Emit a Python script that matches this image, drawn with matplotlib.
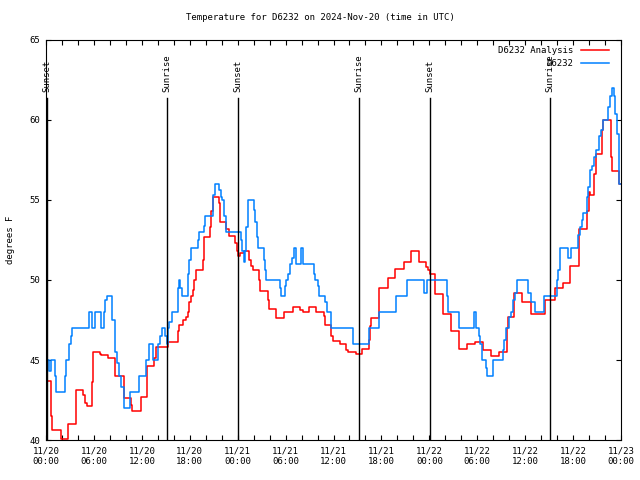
import pandas as pd
import matplotlib
matplotlib.use('Agg')
import matplotlib.pyplot as plt
import matplotlib.dates as mdates

# hours after 2024-11-20 00:00 UTC, values in degrees F
start = pd.Timestamp('2024-11-20 00:00')

obs_hours = [0, 0.4, 0.6, 1.1, 1.25, 2.35, 2.5, 2.85, 3.1, 3.3,
             5.4, 5.8, 6.1, 6.9, 7.25, 7.45, 7.6, 8.3, 8.7, 8.9,
             9.15, 9.4, 9.75, 10.5, 11.7, 12.5, 12.95, 13.45, 14.0, 14.3,
             14.5, 14.95, 15.1, 15.3, 15.45, 15.8, 16.5, 16.6, 16.8, 17.0,
             17.75, 17.95, 18.1, 19.0, 19.1, 19.75, 19.9, 20.9, 21.1, 21.7,
             21.9, 22.1, 22.3, 22.55, 22.6, 24.45, 24.6, 24.8, 24.95, 25.1,
             25.3, 26.05, 26.2, 26.4, 26.55, 27.25, 27.45, 27.6, 29.25, 29.4,
             29.95, 30.1, 30.3, 30.6, 30.8, 31.0, 31.25, 31.95, 32.2, 33.5,
             33.7, 34.05, 34.15, 34.9, 35.2, 35.7, 38.4, 40.4, 41.7, 43.8,
             45.25, 47.35, 47.7, 50.2, 50.35, 51.7, 53.6, 53.85, 54.2, 54.4,
             54.55, 55.05, 55.25, 55.95, 57.2, 57.35, 57.55, 58.0, 58.25, 58.45,
             58.7, 58.95, 60.4, 60.7, 61.2, 62.4, 63.95, 64.15, 64.3, 65.4,
             65.75, 66.65, 66.85, 67.1, 67.3, 67.7, 67.9, 68.1, 68.35, 68.6,
             68.85, 69.3, 69.45, 69.7, 70.4, 70.6, 70.85, 71.15, 71.3, 71.5,
             71.7, 71.8, 72]
obs_temp = [45, 44.3, 45, 44, 43, 44, 45, 46, 46.5, 47,
            48, 47, 48, 47, 48, 48.75, 49, 47.5, 45.5, 44.8,
            44, 43.3, 42, 43, 44, 45, 46, 45, 46, 46.5,
            47, 46.5, 46, 47, 47.4, 48, 49.5, 50, 49.5, 49,
            50.4, 51.25, 52, 52.5, 53, 53.4, 54, 55.3, 56, 55.6,
            55.2, 55, 54, 53.6, 53, 52.5, 51.8, 51.1, 51.8, 53.3,
            55, 54.4, 53.6, 52.7, 52, 51.25, 50.6, 50, 49.5, 49,
            49.6, 50, 50.4, 51, 51.4, 52, 51, 52, 51, 50.4,
            50, 49.6, 49, 48.6, 48, 47, 46, 47, 48, 49,
            50, 49.2, 50, 49, 48, 47, 48, 47, 46.5, 46,
            45, 44.5, 44, 45, 45.6, 46.25, 47, 47.7, 48, 48.75,
            49.2, 50, 49.2, 48.6, 48, 49, 50, 50.6, 52, 51.35,
            52, 52.8, 53.3, 53.75, 54.2, 55.2, 55.8, 56.9, 57.1, 57.7,
            58.1, 59, 59.4, 60, 60.8, 61.5, 62, 61.5, 60.4, 59.1,
            57.1, 56, 56]

ana_hours = [0, 0.6, 0.8, 1.85, 2.75, 3.7, 3.8, 4.65, 4.85, 5.1,
             5.7, 5.85, 6.75, 6.85, 7.8, 8.7, 9.75, 10.7, 10.8, 11.85,
             12.6, 13.5, 13.75, 15.25, 16.5, 16.7, 17.1, 17.55, 17.8, 17.95,
             18.15, 18.45, 18.55, 18.8, 19.6, 19.8, 20.55, 20.7, 20.85, 21.6,
             21.8, 22.6, 22.9, 23.7, 23.9, 24.1, 24.3, 24.75, 25.45, 25.7,
             25.95, 26.7, 26.85, 27.75, 27.9, 28.8, 29.75, 30.9, 31.85, 32.15,
             32.9, 33.8, 34.8, 34.9, 35.7, 35.95, 36.8, 37.6, 37.8, 38.85,
             39.6, 40.4, 40.6, 40.75, 41.7, 42.8, 43.75, 44.8, 45.75, 46.65,
             47.6, 47.85, 48.1, 48.7, 49.65, 50.7, 51.7, 52.75, 53.7, 54.7,
             55.75, 56.75, 57.7, 57.85, 58.6, 59.6, 60.7, 62.5, 63.7, 64.75,
             65.6, 66.7, 66.8, 67.8, 67.95, 68.1, 68.65, 68.85, 69.6, 69.8,
             70.7, 70.85, 71.75, 72]
ana_temp = [43.7, 41.5, 40.6, 40.05, 41, 42.6, 43.1, 42.8, 42.3, 42.1,
            43.6, 45.5, 45.4, 45.3, 45.1, 44, 42.6, 42.2, 41.8, 42.7,
            44.6, 45.1, 45.8, 46.1, 46.8, 47.2, 47.5, 47.7, 48, 48.6,
            49, 49.4, 50, 50.6, 51.25, 52.7, 53.3, 54.3, 55.2, 54.8,
            53.6, 53.2, 52.75, 52.3, 51.8, 51.5, 51.7, 51.8, 51.25, 50.9,
            50.6, 50, 49.3, 48.75, 48.2, 47.6, 48, 48.3, 48.1, 48,
            48.3, 48, 47.75, 47.2, 46.5, 46.2, 46, 45.6, 45.5, 45.4,
            45.7, 46.25, 47.1, 47.6, 49.5, 50.1, 50.7, 51.1, 51.8, 51.1,
            50.8, 50.6, 50.4, 49.1, 47.9, 46.8, 45.7, 46, 46.1, 45.6,
            45.25, 45.5, 47, 47.7, 49.2, 48.6, 47.9, 48.75, 49.5, 49.8,
            50.9, 52.1, 53.2, 54.3, 55.5, 55.3, 56.6, 57.9, 59.4, 60,
            57.7, 56.8, 56, 56]

sun_times = ['2024-11-20 00:04', '2024-11-20 15:09', '2024-11-21 00:03',
             '2024-11-21 15:11', '2024-11-22 00:05', '2024-11-22 15:07']
sun_labels = ['Sunset', 'Sunrise', 'Sunset', 'Sunrise', 'Sunset', 'Sunrise']

plt.rcParams['font.family'] = 'DejaVu Sans Mono'
plt.rcParams['font.size'] = 6.5

obs_t = start + pd.to_timedelta(obs_hours, unit='h')
ana_t = start + pd.to_timedelta(ana_hours, unit='h')

fig = plt.figure(figsize=(6.4, 4.8), dpi=100)
ax = fig.add_axes([46/640, 40/480, 575/640, 400/480])

ax.plot(ana_t, ana_temp, drawstyle='steps-post', color='#ff0000', lw=1.1, label='D6232 Analysis')
ax.plot(obs_t, obs_temp, drawstyle='steps-post', color='#0080ff', lw=1.1, label='D6232')

for t, lab in zip(sun_times, sun_labels):
    t = pd.Timestamp(t)
    ax.plot([t, t], [40, 61.4], color='black', lw=1.0)
    ax.text(t, 61.75, lab, rotation=90, ha='center', va='bottom')

ax.set_xlim(start, start + pd.Timedelta(hours=72))
ax.set_ylim(40, 65)
ax.set_yticks(range(40, 66, 5))
ax.xaxis.set_major_locator(mdates.HourLocator(byhour=[0, 6, 12, 18]))
ax.xaxis.set_major_formatter(mdates.DateFormatter('%m/%d\n%H:%M'))
ax.xaxis.set_minor_locator(mdates.HourLocator(byhour=range(0, 24, 2)))
ax.tick_params(which='both', direction='in', top=True, right=True, length=3.3, width=0.8)
ax.tick_params(axis='x', pad=5)
ax.tick_params(axis='y', pad=4)
for s in ax.spines.values():
    s.set_linewidth(0.8)

ax.legend(loc='upper right', bbox_to_anchor=(0.982, 0.99), frameon=False, markerfirst=False,
          handlelength=3.1, handletextpad=0.8, labelspacing=0.45, borderaxespad=0, borderpad=0.2)

fig.text(0.5, 1 - 18/480, 'Temperature for D6232 on 2024-Nov-20 (time in UTC)', ha='center', va='center')
fig.text(11/640, 0.5, 'degrees F', rotation=90, ha='center', va='center')

fig.savefig('out.png', dpi=100)
